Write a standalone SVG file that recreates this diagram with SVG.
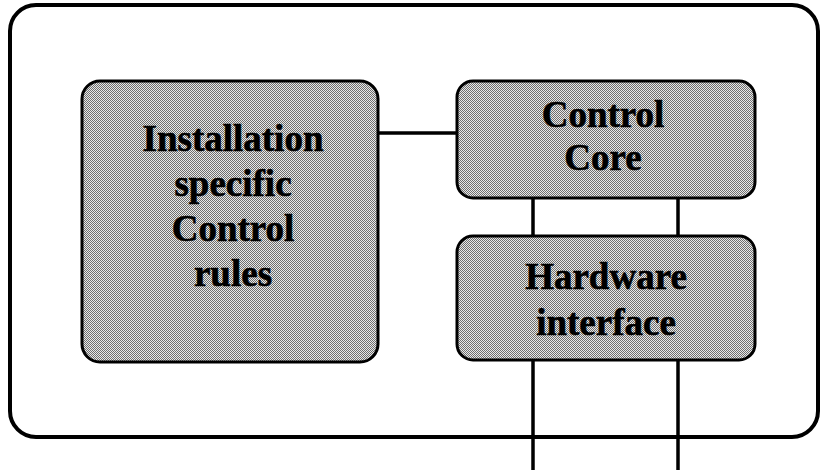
<svg xmlns="http://www.w3.org/2000/svg" width="824" height="470" viewBox="0 0 824 470">
  <defs>
    <!-- fine dither screen used as the box fill -->
    <pattern id="dither" width="2" height="2" patternUnits="userSpaceOnUse">
      <rect width="2" height="2" fill="#e8e8e8"/>
      <rect x="0" y="0" width="1" height="1" fill="#6e6e6e"/>
      <rect x="1" y="1" width="1" height="1" fill="#6e6e6e"/>
    </pattern>
  </defs>
  <style>
    .frame { fill: #ffffff; stroke: #000000; stroke-width: 4; }
    .box { fill: url(#dither); stroke: #000000; stroke-width: 3; }
    .wire { stroke: #000000; stroke-width: 3.5; fill: none; }
    .label { font-family: "Liberation Serif", "Times New Roman", serif; font-weight: bold; font-size: 37px; fill: #000000; stroke: #000000; stroke-width: 0.6; text-anchor: middle; }
  </style>
  <rect width="824" height="470" fill="#ffffff"/>

  <g id="system">
    <rect class="frame" x="10" y="5" width="808" height="432" rx="26" ry="26"/>
  </g>

  <g id="connectors">
    <line class="wire" x1="378" y1="133" x2="458" y2="133"/>
    <line class="wire" x1="533" y1="198" x2="533" y2="236"/>
    <line class="wire" x1="678" y1="198" x2="678" y2="236"/>
    <line class="wire" x1="533" y1="360" x2="533" y2="470"/>
    <line class="wire" x1="678" y1="360" x2="678" y2="470"/>
  </g>

  <g id="rules">
    <rect class="box" x="82" y="81" width="296" height="281" rx="18" ry="18"/>
    <text class="label" x="233" y="151">Installation</text>
    <text class="label" x="233" y="196">specific</text>
    <text class="label" x="233" y="241">Control</text>
    <text class="label" x="233" y="286">rules</text>
  </g>

  <g id="core">
    <rect class="box" x="457" y="81" width="298" height="117" rx="16" ry="16"/>
    <text class="label" x="603" y="127">Control</text>
    <text class="label" x="603" y="170">Core</text>
  </g>

  <g id="hardware">
    <rect class="box" x="457" y="236" width="298" height="124" rx="16" ry="16"/>
    <text class="label" x="606" y="289">Hardware</text>
    <text class="label" x="606" y="335">interface</text>
  </g>
</svg>
